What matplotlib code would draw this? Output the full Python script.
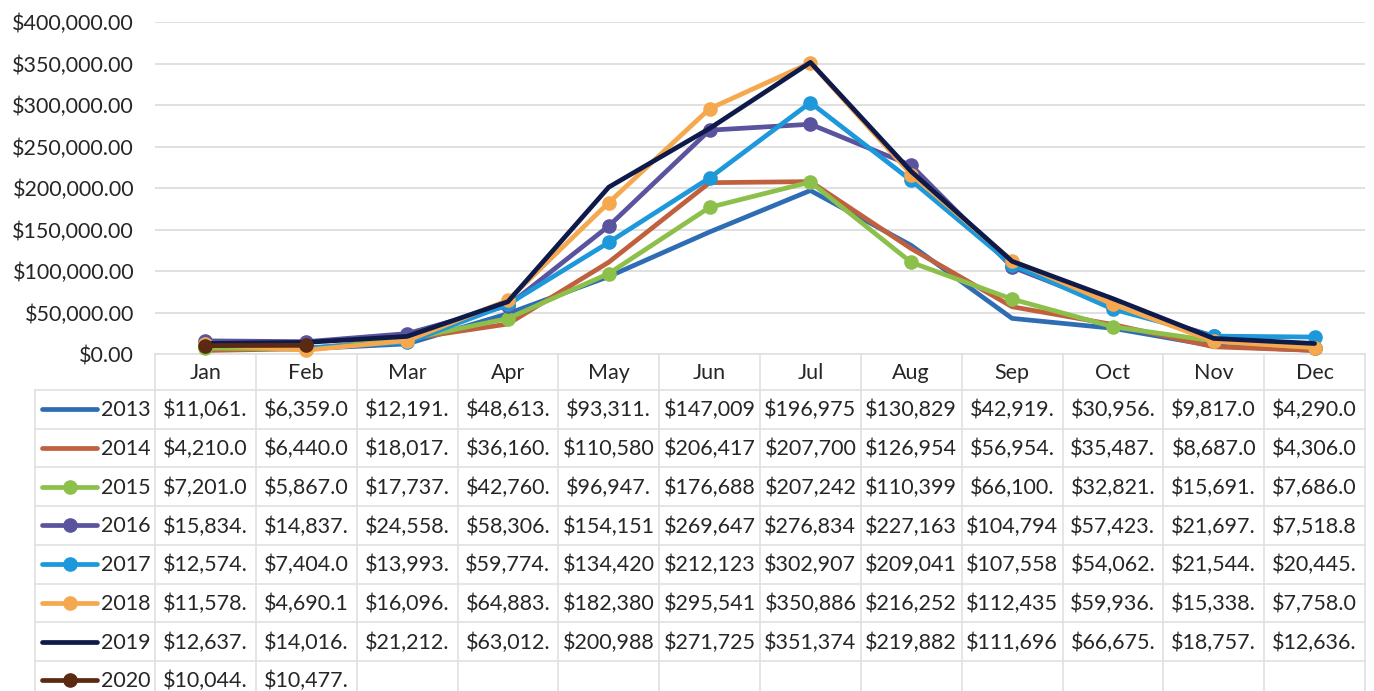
import numpy as np
import matplotlib.pyplot as plt
from matplotlib.ticker import FuncFormatter

# Данные
months = ['Jan', 'Feb', 'Mar', 'Apr', 'May', 'Jun', 'Jul', 'Aug', 'Sep', 'Oct', 'Nov', 'Dec']
years = ['2013', '2014', '2015', '2016', '2017', '2018', '2019', '2020']

s2013 = [11061, 6359.0, 12191, 48613, 93311, 147009, 196975, 130829, 42919, 30956, 9817.0, 4290.0]
s2014 = [4210.0, 6440.0, 18017, 36160, 110580, 206417, 207700, 126954, 56954, 35487, 8687.0, 4306.0]
s2015 = [7201.0, 5867.0, 17737, 42760, 96947, 176688, 207242, 110399, 66100, 32821, 15691, 7686.0]
s2016 = [15834, 14837, 24558, 58306, 154151, 269647, 276834, 227163, 104794, 57423, 21697, 7518.8]
s2017 = [12574, 7404.0, 13993, 59774, 134420, 212123, 302907, 209041, 107558, 54062, 21544, 20445]
s2018 = [11578, 4690.1, 16096, 64883, 182380, 295541, 350886, 216252, 112435, 59936, 15338, 7758.0]
s2019 = [12637, 14016, 21212, 63012, 200988, 271725, 351374, 219882, 111696, 66675, 18757, 12636]
s2020 = [10044, 10477]

series = [s2013, s2014, s2015, s2016, s2017, s2018, s2019, s2020]
colors = ['#2E6DB4', '#C0603F', '#8DC04A', '#5A539E', '#1D98DA', '#F5A84E', '#0E1A4A', '#5A2A12']
has_marker = [False, False, True, True, True, True, False, True]

plt.rcParams['font.family'] = ['Lato', 'DejaVu Sans']
FS = 15.5
LW = 3.4

W, H = 1374, 691
fig = plt.figure(figsize=(W / 100, H / 100), dpi=100)

# Область графика (в пикселях)
left, right, top, bottom = 155, 1365, 22, 354
ax = fig.add_axes([left / W, 1 - bottom / H, (right - left) / W, (bottom - top) / H])
x = np.arange(len(months))
for vals, c, m in zip(series, colors, has_marker):
    ax.plot(x[:len(vals)], vals, color=c, lw=LW, solid_capstyle='round',
            solid_joinstyle='round', marker='o' if m else None, markersize=9.5,
            zorder=3, clip_on=False)

ax.set_xlim(-0.5, 11.5)
ax.set_ylim(0, 400000)
ax.set_yticks(np.arange(0, 400001, 50000))
ax.yaxis.set_major_formatter(FuncFormatter(lambda v, p: f'${v:,.2f}'))
ax.tick_params(axis='y', length=0, pad=15, labelsize=FS, colors='#262626')
ax.set_xticks([])
ax.grid(axis='y', color='#DDDDDD', lw=1.3)
ax.set_axisbelow(True)
for sp in ax.spines.values():
    sp.set_visible(False)

# Таблица данных под графиком
tab = fig.add_axes([0, 0, 1, 1], zorder=-1)
tab.set_xlim(0, W)
tab.set_ylim(H, 0)
tab.axis('off')

colw = (right - left) / len(months)
leg_left = 35
head_h = 36
row_h = 38.7
grid_c = '#E0E0E0'

# горизонтальные линии
tab.plot([left, right], [bottom, bottom], color=grid_c, lw=1.2)
for i in range(len(years)):
    yy = bottom + head_h + i * row_h
    tab.plot([leg_left, right], [yy, yy], color=grid_c, lw=1.2)
# вертикальные линии
tab.plot([leg_left, leg_left], [bottom + head_h, H], color=grid_c, lw=1.2)
for j in range(len(months) + 1):
    xx = left + j * colw
    tab.plot([xx, xx], [bottom, H], color=grid_c, lw=1.2)

# заголовки месяцев
for j, mth in enumerate(months):
    tab.text(left + (j + 0.5) * colw, bottom + head_h / 2 + 1, mth, ha='center', va='center',
             fontsize=FS, color='#262626')

# строки
for i, (yr, vals, c, m) in enumerate(zip(years, series, colors, has_marker)):
    yc = bottom + head_h + (i + 0.5) * row_h
    tab.plot([42, 97], [yc, yc], color=c, lw=LW, solid_capstyle='round')
    if m:
        tab.plot([69.5], [yc], marker='o', color=c, markersize=9.5)
    tab.text(left - 4, yc + 1, yr, ha='right', va='center', fontsize=FS, color='#262626')
    for j, v in enumerate(vals):
        txt = f'${v:,.2f}'[:8]
        tab.text(left + (j + 0.5) * colw, yc + 1, txt, ha='center', va='center',
                 fontsize=FS, color='#262626')

fig.savefig('out.png', dpi=100)
